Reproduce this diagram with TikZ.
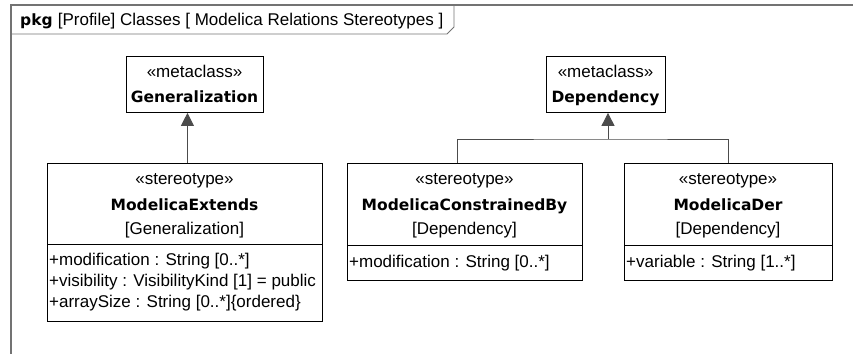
\documentclass[tikz,border=0pt]{standalone}
\usepackage{fontspec}
\setmainfont{Liberation Sans}
\newfontfamily\namefam{DejaVu Sans}
\usetikzlibrary{arrows.meta}
\begin{document}
\begin{tikzpicture}[x=1pt, y=-1pt,
    classbox/.style={draw=black, line width=0.9pt, anchor=north west, inner sep=0pt},
    txt/.style={anchor=base, inner sep=0pt, font=\fontsize{17}{20}\selectfont},
    classname/.style={txt, font=\namefam\bfseries\fontsize{15.5}{18}\selectfont},
    attr/.style={txt, anchor=base west},
    extarrow/.style={draw=black!70, line width=0.9pt, -{Triangle[width=13pt,length=13pt]}}]
       \useasboundingbox (0,0) rectangle (853,354);
       % frame and tab
       \draw[black!55, line width=1.3pt] (853,5) -- (11,5) -- (11,354);
       \draw[black!55, line width=0.8pt] (454,5) -- (454,27) -- (447,34) -- (11,34);
       \node[classname, anchor=base west] (pkg) at (20,25) {pkg};
       \node[txt, anchor=base west] (title) at (pkg.base east) {\ [Profile] Classes [ Modelica Relations Stereotypes ]};
       % metaclasses
       \node[classbox, minimum width=137pt, minimum height=56pt] (gen) at (126,56) {};
       \node[txt] (genst) at (194.5,77) {«metaclass»};
       \node[classname] (genname) at (194.5,102) {Generalization};
       \node[classbox, minimum width=119pt, minimum height=56pt] (dep) at (546,56) {};
       \node[txt] (depst) at (605.5,77) {«metaclass»};
       \node[classname] (depname) at (605.5,102) {Dependency};
       % stereotypes
       \node[classbox, minimum width=275pt, minimum height=158pt] (ext) at (47,163) {};
       \draw[line width=0.9pt] (47,244) -- (322,244);
       \node[txt] (extst) at (184.5,184) {«stereotype»};
       \node[classname] (extname) at (184.5,210) {ModelicaExtends};
       \node[txt] (extmeta) at (184.5,234) {[Generalization]};
       \node[attr] (extA) at (49,265) {+modification : String [0..*]};
       \node[attr] (extB) at (49,286) {+visibility : VisibilityKind [1] = public};
       \node[attr] (extC) at (49,307) {+arraySize : String [0..*]\{ordered\}};
       \node[classbox, minimum width=235pt, minimum height=117pt] (cons) at (347,163) {};
       \draw[line width=0.9pt] (347,245) -- (582,245);
       \node[txt] (consst) at (464.5,184) {«stereotype»};
       \node[classname] (consname) at (464.5,210) {ModelicaConstrainedBy};
       \node[txt] (consmeta) at (464.5,234) {[Dependency]};
       \node[attr] (consA) at (349,267) {+modification : String [0..*]};
       \node[classbox, minimum width=208pt, minimum height=117pt] (der) at (624,163) {};
       \draw[line width=0.9pt] (624,245) -- (832,245);
       \node[txt] (derst) at (728,184) {«stereotype»};
       \node[classname] (dername) at (728,210) {ModelicaDer};
       \node[txt] (dermeta) at (728,234) {[Dependency]};
       \node[attr] (derA) at (626,267) {+variable : String [1..*]};
       % extensions
       \draw[extarrow] ([xshift=2.5pt]ext.north) -- ([xshift=2.5pt]ext.north |- gen.south);
       \coordinate (depjoin) at (608,139);
       \draw[draw=black!70, line width=0.9pt] ([xshift=-7.5pt]cons.north) |- (depjoin) -| (der.north);
       \draw[extarrow] (depjoin) -- (depjoin |- dep.south);
\end{tikzpicture}
\end{document}
